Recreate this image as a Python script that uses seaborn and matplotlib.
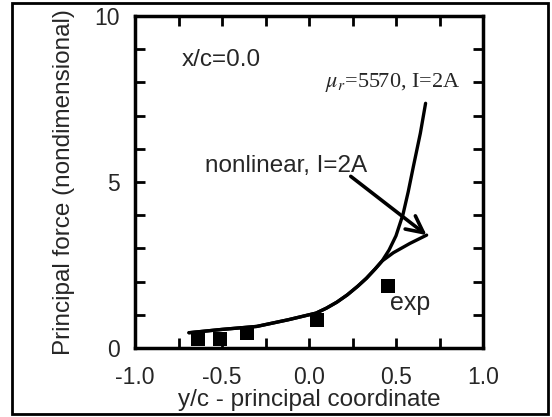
import matplotlib
matplotlib.use("Agg")
import matplotlib.pyplot as plt
import seaborn as sns
import pandas as pd
from matplotlib.patches import Rectangle
from matplotlib.ticker import MultipleLocator

# shared low part of both computed curves
common_x = [-0.69, -0.5, -0.3, -0.12, 0.04, 0.10, 0.16, 0.22, 0.28, 0.33, 0.38, 0.42]
common_y = [0.46, 0.56, 0.65, 0.85, 1.05, 1.20, 1.38, 1.60, 1.86, 2.10, 2.38, 2.62]

# mu_r = 5570 branch (steep)
mur_x = common_x + [0.46, 0.50, 0.54, 0.57, 0.60, 0.64, 0.67]
mur_y = common_y + [2.95, 3.38, 4.02, 4.70, 5.47, 6.47, 7.37]

# nonlinear branch
nonlin_x = common_x + [0.485, 0.58, 0.676]
nonlin_y = common_y + [2.87, 3.15, 3.40]

# experiment
exp_x = [-0.636, -0.511, -0.358, 0.044, 0.456]
exp_y = [0.26, 0.26, 0.44, 0.84, 1.87]

sns.set_theme(style="ticks")
plt.rcParams["font.family"] = ["Liberation Sans", "DejaVu Sans"]

fig = plt.figure(figsize=(5.52, 4.17), dpi=100)
ax = fig.add_axes([135 / 552, 1 - 348 / 417, 348 / 552, 332 / 417])

mur = pd.DataFrame({"x": mur_x, "y": mur_y})
nonlin = pd.DataFrame({"x": nonlin_x, "y": nonlin_y})
exp = pd.DataFrame({"x": exp_x, "y": exp_y})

sns.lineplot(data=mur, x="x", y="y", sort=False, estimator=None,
             color="black", lw=2.4, ax=ax)
sns.lineplot(data=nonlin, x="x", y="y", sort=False, estimator=None,
             color="black", lw=2.4, ax=ax)
sns.scatterplot(data=exp, x="x", y="y", marker="s", s=110, color="black",
                edgecolor="black", linewidth=0, ax=ax, zorder=3)

ax.set_xlim(-1.0, 1.0)
ax.set_ylim(0, 10)
ax.xaxis.set_major_locator(MultipleLocator(0.5))
ax.xaxis.set_minor_locator(MultipleLocator(0.25))
ax.yaxis.set_major_locator(MultipleLocator(5))
ax.yaxis.set_minor_locator(MultipleLocator(1))
ax.xaxis.set_major_formatter(lambda v, p: f"{v:.1f}")
ax.yaxis.set_major_formatter(lambda v, p: f"{v:.0f}")
ax.tick_params(which="both", direction="in", top=True, right=True,
               length=7, width=2, labelsize=16.5, color="black")
ax.tick_params(axis="x", pad=13)
ax.tick_params(axis="y", pad=11)
for s in ax.spines.values():
    s.set_linewidth(2.5)
    s.set_color("black")

ax.set_xlabel("y/c - principal coordinate", fontsize=17.5, labelpad=0)
ax.set_ylabel("Principal force (nondimensional)", fontsize=17.5, labelpad=14)

ax.text(-0.73, 8.68, "x/c=0.0", fontsize=17.5, va="center", ha="left")
ax.text(0.09, 8.0, r"$\mu_r$=5570, I=2A", fontsize=16, va="center",
        ha="left", family=["Liberation Serif", "DejaVu Serif"],
        math_fontfamily="stix")
ax.text(-0.60, 5.47, "nonlinear, I=2A", fontsize=17.5, va="center", ha="left")
ax.text(0.466, 1.36, "exp", fontsize=18, va="center", ha="left")
ax.annotate("", xy=(0.676, 3.40), xytext=(0.24, 5.17),
            arrowprops=dict(arrowstyle="->,head_length=1.0,head_width=0.5",
                            lw=2.6, color="black", shrinkA=0, shrinkB=0))

fig.patches.append(Rectangle((12 / 552, 3 / 417), 536 / 552, 411 / 417,
                             transform=fig.transFigure, fill=False,
                             lw=2, edgecolor="black"))

fig.savefig("out.png", dpi=100)
